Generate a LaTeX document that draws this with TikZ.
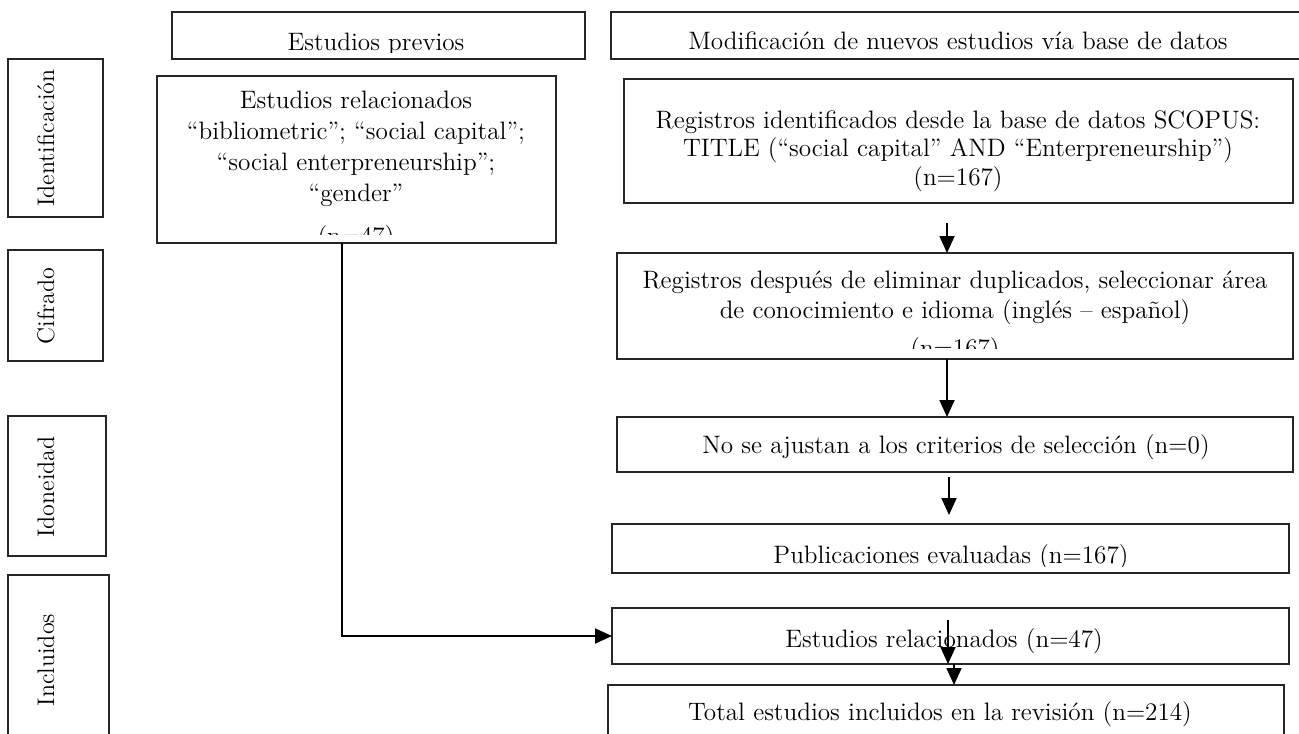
\documentclass[tikz,border=0pt]{standalone}
\usepackage{fontspec}
\usetikzlibrary{arrows.meta}
\newcommand\placebox[6][]{\node[box,minimum width={(#5-#3)*0.5pt},minimum height={(#6-#4)*0.5pt},#1] (#2) at ({(#3+#5)/2},{(#4+#6)/2}) {};}
\begin{document}
\begin{tikzpicture}[x=0.5pt,y=-0.5pt,
  box/.style={draw=black!85, line width=0.7pt, inner sep=0pt, outer sep=0pt},
  txt/.style={inner sep=0pt, font=\fontsize{12.6}{15}\selectfont, align=center},
  side/.style={txt, rotate=90, anchor=base, font=\fontsize{12}{14}\selectfont},
  conn/.style={line width=0.9pt, -{Triangle[length=8.5pt,width=7.5pt]}},
]
\useasboundingbox (0,0) rectangle (1299,733);
\clip (0,0) rectangle (1299,733);

% boxes
\placebox{hdrL}{172}{12}{585}{59}
\placebox{hdrR}{611}{12}{1320}{59}
\placebox{ident}{8}{59}{103}{217}
\placebox{cif}{8}{250}{103}{361}
\placebox{ido}{8}{416}{106}{556}
\placebox{inc}{8}{575}{109}{760}
\placebox{prev}{157}{76}{556}{243}
\placebox{reg1}{624}{79}{1293}{203}
\placebox{reg2}{617}{253}{1293}{359}
\placebox{noaj}{617}{417}{1293}{472}
\placebox{pub}{612}{524}{1289}{573}
\placebox{rel}{612}{608}{1289}{664}
\placebox{tot}{608}{685}{1284}{760}

% texts
\begin{scope}
\clip (hdrL.north west) rectangle (585,53);
\node[txt, anchor=base] (thdrL) at (376,51) {Estudios previos};
\end{scope}
\node[txt, anchor=base] (thdrR) at (958,50) {Modificación de nuevos estudios vía base de datos};

\node[side] (tident) at (54,138) {Identificación};
\node[side] (tcif) at (54,306) {Cifrado};
\node[side] (tido) at (54,487) {Idoneidad};
\node[side] (tinc) at (54,660) {Incluidos};

\begin{scope}
\clip (prev.north west) rectangle (556,234);
\node[txt, anchor=north, font=\fontsize{12.6}{15.5}\selectfont] (tprev) at (356,90.5)
  {Estudios relacionados\\ “bibliometric”; “social capital”;\\ “social enterpreneurship”;\\ “gender”\\[6pt] (n=47)};
\end{scope}

\node[txt, anchor=north, font=\fontsize{12.6}{14.25}\selectfont] (treg1) at (958,110)
  {Registros identificados desde la base de datos SCOPUS:\\ TITLE (“social capital” AND “Enterpreneurship”)\\ (n=167)};

\begin{scope}
\clip (reg2.north west) rectangle (1293,348);
\node[txt, anchor=north, font=\fontsize{12.6}{15}\selectfont] (treg2) at (955,271)
  {Registros después de eliminar duplicados, seleccionar área\\ de conocimiento e idioma (inglés – español)\\[4pt] (n=167)};
\end{scope}

\node[txt, anchor=base] (tnoaj) at (956,453) {No se ajustan a los criterios de selección (n=0)};
\begin{scope}
\clip (pub.north west) rectangle (1289,566);
\node[txt, anchor=base] (tpub) at (951,563) {Publicaciones evaluadas (n=167)};
\end{scope}
\node[txt, anchor=base] (trel) at (944,647) {Estudios relacionados (n=47)};
\node[txt, anchor=base] (ttot) at (940,720) {Total estudios incluidos en la revisión (n=214)};

% connectors
\coordinate (a1s) at (947,223);
\coordinate (a3s) at (949,477);
\coordinate (a3e) at (949,515);
\coordinate (a4s) at (948,620);
\coordinate (a5x) at (954,0);
\coordinate (ex) at (342,0);
\draw[conn] (a1s) -- (a1s |- reg2.north);
\draw[conn] (reg2.south -| a1s) -- (noaj.north -| a1s);
\draw[conn] (a3s) -- (a3e);
\draw[conn] (a4s) -- (a4s |- rel.south);
\draw[conn] (rel.south -| a5x) -- (tot.north -| a5x);
\draw[conn] (prev.south -| ex) |- (rel.west);
\end{tikzpicture}
\end{document}
